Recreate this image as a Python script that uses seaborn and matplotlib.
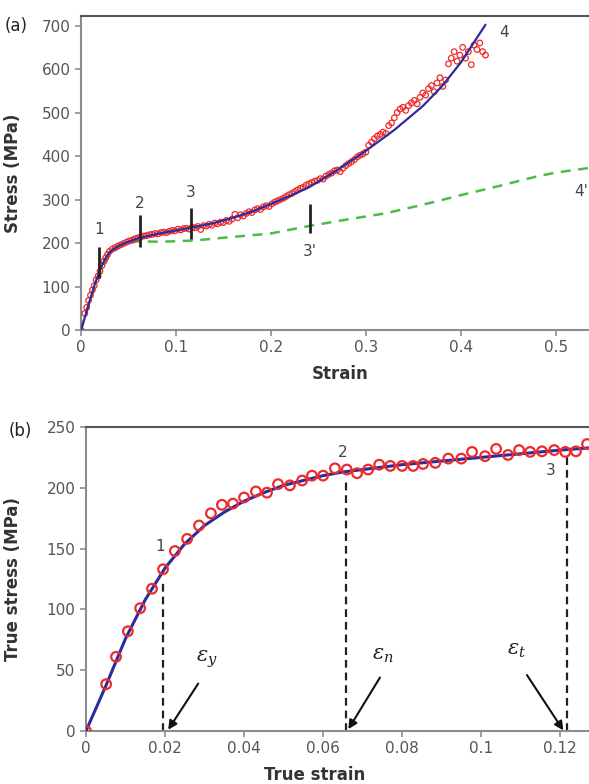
import numpy as np
import pandas as pd
import matplotlib
matplotlib.use("Agg")
import matplotlib.pyplot as plt
import seaborn as sns

# ---- panel (a): engineering stress-strain ----
fit_a_strain = [0, 0.005, 0.01, 0.015, 0.02, 0.025, 0.03, 0.035, 0.04, 0.05, 0.06, 0.08,
                0.1, 0.12, 0.14, 0.16, 0.18, 0.2, 0.22, 0.24, 0.27, 0.3, 0.33, 0.36,
                0.38, 0.4, 0.426]
fit_a_stress = [0, 36, 74, 108, 138, 162, 178, 187, 194, 203, 211, 221,
                229, 237, 246, 258, 272, 290, 308, 328, 368, 412, 460, 515,
                560, 615, 702]

green_strain = [0, 0.01, 0.02, 0.03, 0.04, 0.05, 0.06, 0.08, 0.1, 0.12, 0.15, 0.2, 0.24,
                0.28, 0.32, 0.36, 0.4, 0.44, 0.48, 0.5, 0.54]
green_stress = [0, 72, 132, 172, 190, 200, 204, 203, 204, 206, 212, 222, 239,
                254, 268, 288, 310, 331, 353, 362, 374]

pts_a_strain = [0.0, 0.004, 0.006, 0.008, 0.010, 0.012, 0.014, 0.016, 0.018, 0.020, 0.022,
                0.024, 0.026, 0.028, 0.030, 0.033, 0.036, 0.039, 0.042, 0.045, 0.048, 0.051,
                0.054, 0.057, 0.060, 0.063, 0.066, 0.069, 0.072, 0.075, 0.078, 0.081, 0.084,
                0.087, 0.090, 0.093, 0.096, 0.099, 0.102, 0.105, 0.108, 0.111, 0.114, 0.117,
                0.120, 0.123, 0.126, 0.129, 0.132, 0.135, 0.138, 0.141, 0.144, 0.147, 0.150,
                0.153, 0.156, 0.159, 0.162, 0.165, 0.168, 0.171, 0.174, 0.177, 0.180, 0.183,
                0.186, 0.189, 0.192, 0.195, 0.198, 0.201, 0.204, 0.207, 0.210, 0.213, 0.216,
                0.219, 0.222, 0.225, 0.228, 0.231, 0.234, 0.237, 0.240, 0.243, 0.246, 0.249,
                0.252, 0.255, 0.258, 0.261, 0.264, 0.267, 0.270, 0.273, 0.276, 0.279, 0.282,
                0.285, 0.288, 0.291, 0.294, 0.297, 0.300, 0.303, 0.306, 0.309, 0.312, 0.315,
                0.318, 0.321, 0.324, 0.327, 0.330, 0.333, 0.336, 0.339, 0.342, 0.345, 0.348,
                0.351, 0.354, 0.357, 0.360, 0.363, 0.366, 0.369, 0.372, 0.375, 0.378, 0.381,
                0.384, 0.387, 0.390, 0.393, 0.396, 0.399, 0.402, 0.405, 0.408, 0.411, 0.414,
                0.417, 0.420, 0.423, 0.426]
pts_a_stress = [0, 38, 52, 68, 80, 92, 102, 115, 124, 135, 148,
                158, 166, 174, 181, 186, 190, 193, 196, 199, 202, 205,
                207, 210, 212, 214, 216, 217, 219, 220, 222, 221, 224,
                225, 224, 227, 229, 228, 232, 230, 233, 234, 232, 236,
                235, 238, 231, 240, 239, 243, 241, 246, 244, 248, 247,
                252, 250, 255, 266, 258, 265, 262, 268, 272, 270, 276,
                279, 277, 283, 286, 284, 290, 294, 297, 300, 303, 307,
                311, 314, 318, 322, 326, 328, 333, 336, 339, 342, 344,
                348, 347, 354, 358, 361, 366, 368, 364, 372, 378, 383,
                387, 392, 398, 402, 405, 409, 425, 432, 440, 446, 450,
                455, 452, 470, 476, 488, 500, 508, 512, 505, 516, 522,
                528, 520, 535, 545, 540, 555, 562, 548, 568, 580, 560,
                575, 612, 625, 640, 618, 632, 650, 625, 640, 610, 655,
                645, 660, 640, 632]

mark_a_x = [0.019, 0.062, 0.116, 0.241]
mark_a_lo = [120, 191, 209, 223]
mark_a_hi = [191, 264, 280, 290]
mark_a_labels = ["1", "2", "3", "3'"]
mark_a_label_y = [230, 292, 317, 180]

# ---- panel (b): true stress-strain ----
fit_b_strain = [0, 0.005, 0.01, 0.015, 0.02, 0.025, 0.03, 0.035, 0.04, 0.045, 0.05, 0.055,
                0.06, 0.065, 0.07, 0.08, 0.09, 0.1, 0.11, 0.12, 0.128]
fit_b_stress = [0, 37, 76, 108, 134, 154, 169, 180, 189, 196, 202, 206,
                210, 213, 215, 219, 222, 225, 228, 231, 233]

pts_b_strain = [0.0, 0.0051, 0.0076, 0.0106, 0.0137, 0.0167, 0.0195, 0.0225, 0.0256, 0.0286,
                0.0316, 0.0344, 0.0372, 0.040, 0.043, 0.0458, 0.0486, 0.0516, 0.0547, 0.0572,
                0.060, 0.063, 0.066, 0.0686, 0.0714, 0.0742, 0.077, 0.080, 0.0828, 0.0853,
                0.0884, 0.0917, 0.095, 0.0977, 0.101, 0.1038, 0.1068, 0.1096, 0.1124, 0.1154,
                0.1185, 0.1213, 0.124, 0.1268]
pts_b_stress = [0, 38.5, 61, 82, 101, 117, 133, 148, 158, 169,
                179, 186, 187, 192, 197, 196, 203, 202, 206, 210,
                210, 216, 215, 212, 215, 219, 218, 218, 218, 219.6,
                220.5, 224, 224, 229.5, 226, 232, 227, 231, 229.5, 230,
                231, 229.5, 230, 236]

vline_b_x = [0.0196, 0.0658, 0.1218]
vline_b_top = [122, 205, 226]
mark_b_labels = ["1", "2", "3"]
mark_b_label_xy = [(0.0187, 152), (0.065, 229), (0.1175, 214)]

eps_labels = [r"$\varepsilon_y$", r"$\varepsilon_n$", r"$\varepsilon_t$"]
eps_text_xy = [(0.0306, 50), (0.075, 54), (0.109, 58)]
eps_tail = [(0.0284, 39), (0.0744, 44), (0.1116, 46)]
eps_head = [(0.0208, 1), (0.0664, 1.5), (0.1208, 0.5)]

red = "#ee2b2b"
blue = "#2c2c9c"
green = "#4cbb47"
tickc = "#555555"
spinec = "#8c8c8c"

sns.set_style("ticks")
plt.rcParams["font.family"] = ["DejaVu Sans"]
plt.rcParams["mathtext.fontset"] = "dejavuserif"

fig = plt.figure(figsize=(5.89, 7.84), dpi=100)
ax1 = fig.add_axes([81 / 589, 1 - 330 / 784, 508 / 589, 314 / 784])
ax2 = fig.add_axes([86 / 589, 1 - 731 / 784, 503 / 589, 304 / 784])


def style_axes(ax):
    for s in ["left", "bottom"]:
        ax.spines[s].set_color(spinec)
        ax.spines[s].set_linewidth(1.5)
    ax.spines["top"].set_visible(True)
    ax.spines["top"].set_color("#555555")
    ax.spines["top"].set_linewidth(1.5)
    ax.spines["right"].set_visible(False)
    ax.tick_params(direction="out", length=4, width=1.2, color=spinec,
                   labelcolor=tickc, labelsize=11)


# panel (a)
sns.lineplot(x=green_strain, y=green_stress, ax=ax1, color=green, lw=1.8,
             linestyle=(0, (4, 3)), zorder=2)
sns.scatterplot(x=pts_a_strain, y=pts_a_stress, ax=ax1, s=16, marker="o",
                facecolors="none", edgecolor=red, linewidth=0.9, zorder=3)
sns.lineplot(x=fit_a_strain, y=fit_a_stress, ax=ax1, color=blue, lw=1.6, zorder=4)
ax1.vlines(mark_a_x, mark_a_lo, mark_a_hi, color="#222222", lw=2, zorder=5)
for x, lab, y in zip(mark_a_x, mark_a_labels, mark_a_label_y):
    ax1.text(x, y, lab, ha="center", va="center", fontsize=11, color="#444444")
ax1.text(0.446, 684, "4", ha="center", va="center", fontsize=11, color="#444444")
ax1.text(0.534, 318, "4'", ha="right", va="center", fontsize=11, color="#444444")

ax1.set_xlim(0, 0.535)
ax1.set_ylim(0, 722)
ax1.set_xticks([0, 0.1, 0.2, 0.3, 0.4, 0.5])
ax1.set_xticklabels(["0", "0.1", "0.2", "0.3", "0.4", "0.5"])
ax1.set_yticks([0, 100, 200, 300, 400, 500, 600, 700])
style_axes(ax1)
ax1.set_xlabel("Strain", fontsize=12, fontweight="bold", color="#333333")
ax1.set_ylabel("Stress (MPa)", fontsize=12, fontweight="bold", color="#333333")
ax1.xaxis.set_label_coords(0.51, -0.11)
ax1.yaxis.set_label_coords(-0.116, 0.5)

# panel (b)
ax2.vlines(vline_b_x, 0, vline_b_top, color="#222222", lw=1.6,
           linestyle=(0, (3.5, 2.2)), zorder=2)
sns.lineplot(x=fit_b_strain, y=fit_b_stress, ax=ax2, color=blue, lw=2.2, zorder=3)
sns.scatterplot(x=pts_b_strain, y=pts_b_stress, ax=ax2, s=48, marker="o",
                facecolors="none", edgecolor=red, linewidth=1.6, zorder=4)
for lab, (x, y) in zip(mark_b_labels, mark_b_label_xy):
    ax2.text(x, y, lab, ha="center", va="center", fontsize=11, color="#444444")
for lab, txy, tail, head in zip(eps_labels, eps_text_xy, eps_tail, eps_head):
    ax2.text(txy[0], txy[1], lab, ha="center", va="bottom", fontsize=15, color="#222222")
    ax2.annotate("", xy=head, xytext=tail,
                 arrowprops=dict(arrowstyle="-|>", color="#111111", lw=1.5,
                                 mutation_scale=13, shrinkA=0, shrinkB=0))

ax2.set_xlim(0, 0.1273)
ax2.set_ylim(0, 250)
ax2.set_xticks([0, 0.02, 0.04, 0.06, 0.08, 0.1, 0.12])
ax2.set_xticklabels(["0", "0.02", "0.04", "0.06", "0.08", "0.1", "0.12"])
ax2.set_yticks([0, 50, 100, 150, 200, 250])
style_axes(ax2)
ax2.set_xlabel("True strain", fontsize=12, fontweight="bold", color="#333333")
ax2.set_ylabel("True stress (MPa)", fontsize=12, fontweight="bold", color="#333333")
ax2.xaxis.set_label_coords(0.455, -0.115)
ax2.yaxis.set_label_coords(-0.127, 0.5)

fig.text(0.008, 1 - 26 / 784, "(a)", fontsize=12, va="center", ha="left", color="#222222")
fig.text(0.015, 1 - 431 / 784, "(b)", fontsize=12, va="center", ha="left", color="#222222")

fig.savefig("out.png", dpi=100)
